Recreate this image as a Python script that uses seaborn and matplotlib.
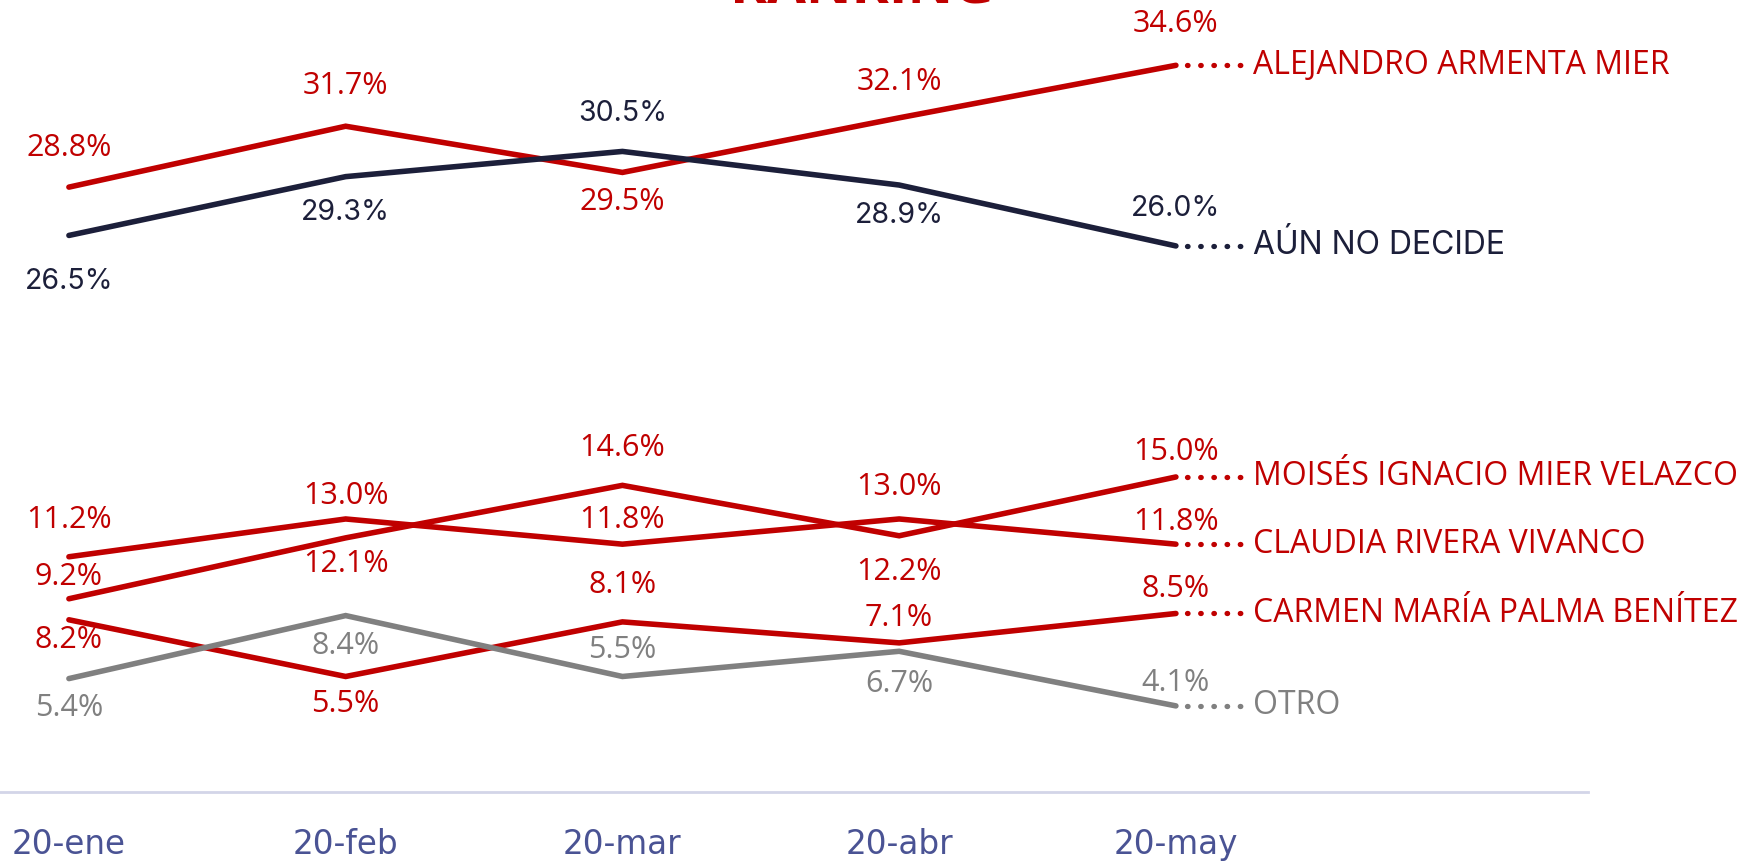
import matplotlib
matplotlib.use("Agg")
import matplotlib.pyplot as plt
import seaborn as sns
import pandas as pd

sns.set_theme(style="white")
plt.rcParams['font.family'] = ['Open Sans', 'DejaVu Sans']

months = ["20-ene", "20-feb", "20-mar", "20-abr", "20-may"]
series_names = ["ALEJANDRO ARMENTA MIER", "AÚN NO DECIDE", "MOISÉS IGNACIO MIER VELAZCO",
                "CLAUDIA RIVERA VIVANCO", "CARMEN MARÍA PALMA BENÍTEZ", "OTRO"]
armenta = [28.8, 31.7, 29.5, 32.1, 34.6]
no_decide = [26.5, 29.3, 30.5, 28.9, 26.0]
moises = [9.2, 12.1, 14.6, 12.2, 15.0]
claudia = [11.2, 13.0, 11.8, 13.0, 11.8]
carmen = [8.2, 5.5, 8.1, 7.1, 8.5]
otro = [5.4, 8.4, 5.5, 6.7, 4.1]
values = [armenta, no_decide, moises, claudia, carmen, otro]

# layout only: vertical offset of each value label (pixels, + above / - below)
label_offsets = [
    [36, 37, -25, 33, 38],
    [-40, -31, 35, -26, 35],
    [21, -22, 35, -31, 24],
    [34, 22, 23, 30, 21],
    [-17, -23, 34, 24, 23],
    [-25, -26, 25, -28, 22],
]
RED = "#c00000"
NAVY = "#1c1f3a"
GRAY = "#808080"
colors = [RED, NAVY, RED, RED, RED, GRAY]
title = "RANKING"

rows = []
for name, vals in zip(series_names, values):
    for i, v in enumerate(vals):
        rows.append({"x": i, "mes": months[i], "serie": name, "valor": v})
df = pd.DataFrame(rows)

W, H = 1751, 863
S = W / 1568
fig = plt.figure(figsize=(W / 100, H / 100), dpi=100)
ax = fig.add_axes([0, 1 - 792 / H, 1588 / W, 792 / H])
ax.patch.set_alpha(0)
fig.patch.set_facecolor("white")

sns.lineplot(data=df, x="x", y="valor", hue="serie", palette=dict(zip(series_names, colors)),
             hue_order=series_names, linewidth=4.0, legend=False, ax=ax,
             solid_capstyle="round", solid_joinstyle="miter")

ax.set_xlim(-0.249, 5.489)
ax.set_ylim(0.0, 37.71)

for s in ["top", "right", "left"]:
    ax.spines[s].set_visible(False)
ax.spines["bottom"].set_color("#d3d5e8")
ax.spines["bottom"].set_linewidth(2)
ax.set_yticks([])
ax.set_xticks(range(len(months)))
ax.set_xticklabels(months, family=['DejaVu Sans'])
ax.tick_params(axis="x", length=0, pad=26, labelsize=23.5, labelcolor="#4a5394")
ax.set_xlabel("")
ax.set_ylabel("")

for name, vals, offs, c in zip(series_names, values, label_offsets, colors):
    if c == NAVY:
        fam, fs = ['Inter', 'DejaVu Sans'], 20.5
    else:
        fam, fs = ['Open Sans', 'DejaVu Sans'], 22
    for i, (v, o) in enumerate(zip(vals, offs)):
        ax.annotate(f"{v:.1f}%", (i, v), xytext=(0, o * S - 1.5), textcoords="offset pixels",
                    ha="center", va="center", fontsize=fs, color=c, family=fam)
    last = len(vals) - 1
    ax.plot([last + 0.04, last + 0.237], [vals[-1], vals[-1]], color=c, linestyle=(0, (0.1, 2.4)),
            linewidth=3.8, dash_capstyle="round", clip_on=False)
    ax.annotate(name, (last, vals[-1]), xytext=(77, 0), textcoords="offset pixels",
                ha="left", va="center", fontsize=23, color=c,
                family=['Inter', 'DejaVu Sans'] if c == NAVY else ['Open Sans', 'DejaVu Sans'])

fig.text(862 / W, 1 - 3 / H, title, ha="center", va="baseline", fontsize=40.5,
         fontweight="bold", color=RED)

fig.savefig("out.png", dpi=100, facecolor="white")
